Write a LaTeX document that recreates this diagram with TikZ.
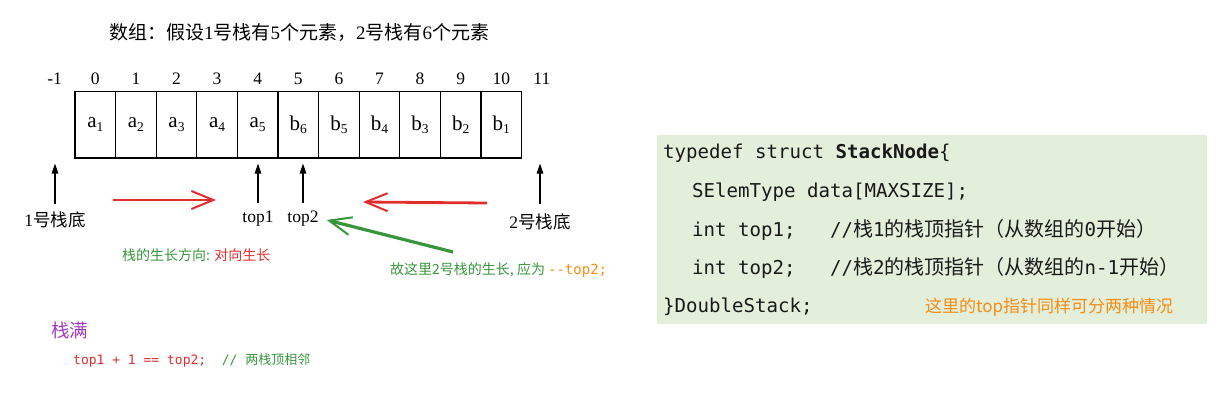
\documentclass[tikz,border=0pt]{standalone}
\usepackage{fontspec}
\setmainfont{Liberation Serif}
\newfontfamily\cjk{Noto Sans CJK SC}
\newfontfamily\cmono{DejaVu Sans Mono}
\usetikzlibrary{arrows.meta}
\definecolor{redA}{RGB}{225,45,45}
\definecolor{greenA}{RGB}{55,150,60}
\definecolor{orangeA}{RGB}{245,140,20}
\definecolor{purpleA}{RGB}{160,60,190}
\definecolor{codebg}{RGB}{227,239,219}
\definecolor{codefg}{RGB}{25,25,25}
\newcommand\cellsub[2]{#1\raisebox{-0.35ex}{\fontsize{13.5}{13.5}\selectfont #2}}
\newcommand\cc[1]{{\cjk\fontsize{20}{20}\selectfont #1}}
\begin{document}
\begin{tikzpicture}[x=1pt,y=-1pt,
  cell/.style={draw, line width=1.1pt, minimum width=40.6pt, minimum height=66.5pt, inner sep=0pt, font=\fontsize{21}{21}\selectfont},
  idx/.style={inner sep=0pt, font=\fontsize{17.5}{17.5}\selectfont},
  lbl/.style={inner sep=0pt, font=\fontsize{17.5}{17.5}\selectfont},
  uparrow/.style={-{Triangle[length=10pt,width=6.5pt]}, line width=1.2pt},
  growarrow/.style={-{Straight Barb[length=22pt,width=18pt,line width=2pt]}, line width=2.8pt},
  code/.style={anchor=west, inner sep=0pt, text=codefg, font=\cmono\fontsize{19.1}{19.1}\selectfont},
  note/.style={anchor=west, inner sep=0pt}]
\path[use as bounding box] (0,0) rectangle (1231,401);

% title
\node[inner sep=0pt, font=\fontsize{19}{19}\selectfont] (title) at (299,33)
  {{\cjk 数组：假设}1{\cjk 号栈有}5{\cjk 个元素，}2{\cjk 号栈有}6{\cjk 个元素}};

% array cells
\foreach \i/\t in {0/\cellsub{a}{1},1/\cellsub{a}{2},2/\cellsub{a}{3},3/\cellsub{a}{4},4/\cellsub{a}{5},5/\cellsub{b}{6},6/\cellsub{b}{5},7/\cellsub{b}{4},8/\cellsub{b}{3},9/\cellsub{b}{2},10/\cellsub{b}{1}}
  \node[cell] (c\i) at ({75+40.6*(\i+0.5)},124.75) {\t};
% indices
\foreach \i in {-1,0,...,11}
  \node[idx] (idx\i) at ({75+40.6*(\i+0.5)},79) {\i};

% bottom labels
\node[lbl] (b1) at (55,220) {1{\cjk 号栈底}};
\node[lbl] (top1) at (258,219) {top1};
\node[lbl] (top2) at (303,219) {top2};
\node[lbl] (b2) at (540,222) {2{\cjk 号栈底}};

% up arrows
\draw[uparrow] ([yshift=8pt]b1.north) -- ([yshift=-5pt]b1.north |- c0.south);
\draw[uparrow] ([yshift=8pt]top1.north) -- ([yshift=-5pt]top1.north |- c4.south);
\draw[uparrow] ([yshift=8pt]top2.north) -- ([yshift=-5pt]top2.north |- c5.south);
\draw[uparrow] ([yshift=10pt]b2.north) -- ([yshift=-5pt]b2.north |- c10.south);

% growth arrows
\coordinate (r1s) at (113,200);
\coordinate (r1e) at (216,200);
\coordinate (r2s) at (487,203);
\coordinate (r2e) at (363,202);
\coordinate (g1s) at (453,252);
\draw[growarrow, redA] (r1s) -- (r1e);
\draw[growarrow, redA] (r2s) -- (r2e);
\draw[growarrow, greenA, line width=3.2pt] (g1s) -- ([xshift=8pt,yshift=-1pt]top2.east);

% notes
\node[note, font=\cjk\fontsize{14}{14}\selectfont] (grow) at (122,255)
  {\textcolor{greenA}{栈的生长方向: }\textcolor{redA}{对向生长}};
\node[note, font=\cjk\fontsize{14}{14}\selectfont] (gnote) at (390,270)
  {\textcolor{greenA}{故这里2号栈的生长, 应为 }\textcolor{orangeA}{\cmono -\kern0pt-top2;}};
\node[note, text=purpleA, font=\cjk\fontsize{18.5}{18.5}\selectfont] (full) at (51,330) {栈满};
\node[note, font=\cmono\fontsize{13}{13}\selectfont] (cond) at (73,360)
  {\textcolor{redA}{top1 + 1 == top2;}~~\textcolor{greenA}{//~{\cjk 两栈顶相邻}}};

% code box
\fill[codebg] (657,135) rectangle (1207,324);
\node[code] (l1) at (663,153) {typedef struct \textbf{StackNode}\{};
\node[code] (l2) at (692,192) {SElemType data[MAXSIZE];};
\node[code] (l3) at (692,230) {int top1;~~~//\cc{栈}1\cc{的栈顶指针（从数组的}0\cc{开始）}};
\node[code] (l4) at (692,268) {int top2;~~~//\cc{栈}2\cc{的栈顶指针（从数组的}n-1\cc{开始）}};
\node[code] (l5) at (663,307) {\}DoubleStack;};
\node[note, text=orangeA, font=\cjk\fontsize{17}{17}\selectfont] (onote) at (925,307) {这里的top指针同样可分两种情况};
\end{tikzpicture}
\end{document}
